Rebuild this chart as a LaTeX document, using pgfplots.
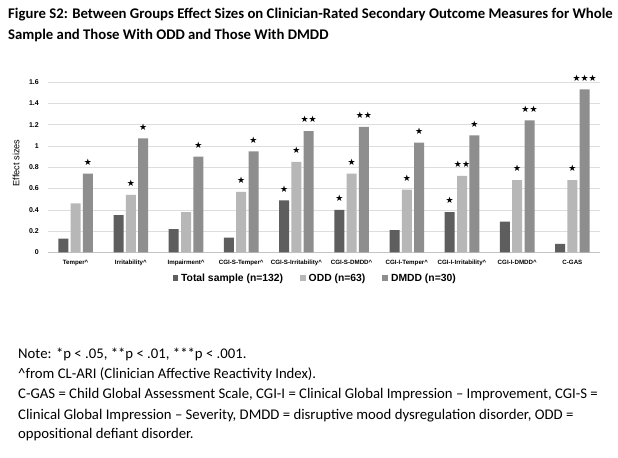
\documentclass[border=0pt]{standalone}
\usepackage{fontspec}
\setmainfont{Carlito}
\newfontfamily\arial{Liberation Sans}
\newfontfamily\djv{DejaVu Sans}
\usepackage{pgfplots}
\pgfplotsset{compat=1.18}

\definecolor{cTot}{HTML}{5E5E5E}
\definecolor{cOdd}{HTML}{B7B7B7}
\definecolor{cDmdd}{HTML}{8E8E8E}
\definecolor{cGrid}{HTML}{DDDDDD}
\definecolor{cAxis}{HTML}{C4C4C4}

\begin{document}
\begin{tikzpicture}
\path[use as bounding box, fill=white] (0bp,0bp) rectangle (618bp,458bp);

% title
\node[anchor=base west, inner sep=0pt, font=\bfseries\fontsize{14.8}{18}\selectfont] at (8bp,439bp)
  {Figure S2: Between Groups Effect Sizes on Clinician-Rated Secondary Outcome Measures for Whole};
\node[anchor=base west, inner sep=0pt, font=\bfseries\fontsize{14.8}{18}\selectfont] at (8bp,418bp)
  {Sample and Those With ODD and Those With DMDD};

\begin{axis}[
    at={(48bp,205.5bp)}, anchor=south west,
    scale only axis, width=552bp, height=170.5bp,
    xmin=-0.5, xmax=9.5, ymin=0, ymax=1.6,
    ybar=2.3bp, bar width=10bp,
    axis x line*=bottom, axis y line*=left,
    x axis line style={draw=cAxis, line width=0.6pt},
    y axis line style={draw=none},
    ytick={0,0.2,0.4,0.6,0.8,1,1.2,1.4,1.6},
    yticklabels={0,0.2,0.4,0.6,0.8,1,1.2,1.4,1.6},
    ymajorgrids, major grid style={draw=cGrid, line width=0.5pt},
    ytick style={draw=none},
    yticklabel style={font=\arial\bfseries\fontsize{7}{8}\selectfont, inner sep=0pt, anchor=east, xshift=-9bp},
    xtick={0,...,9},
    xticklabels={Temper\textasciicircum, Irritability\textasciicircum, Impairment\textasciicircum,
      CGI-S-Temper\textasciicircum, CGI-S-Irritability\textasciicircum, CGI-S-DMDD\textasciicircum,
      CGI-I-Temper\textasciicircum, CGI-I-Irritability\textasciicircum, CGI-I-DMDD\textasciicircum, C-GAS},
    xtick style={draw=none},
    xticklabel style={font=\arial\bfseries\fontsize{6.2}{7}\selectfont, inner sep=0pt, anchor=north, yshift=-3bp},
    extra x ticks={-0.5,0.5,1.5,2.5,3.5,4.5,5.5,6.5,7.5,8.5,9.5},
    extra x tick labels={},
    extra x tick style={grid=none, tick align=outside, major tick length=3bp,
      tick style={draw=cAxis, line width=0.6pt}},
    clip=false,
    nodes near coords, point meta=explicit symbolic,
    every node near coord/.append style={font=\djv\fontsize{9}{9}\selectfont, inner sep=0pt, anchor=south, yshift=8bp, text=black},
    legend columns=3,
    legend style={at={(0.484,-0.15)}, anchor=center, draw=none, fill=none,
      font=\arial\bfseries\fontsize{10.4}{12}\selectfont,
      /tikz/every odd column/.append style={column sep=1bp},
      /tikz/every even column/.append style={column sep=15bp}},
    legend image code/.code={\fill[#1] (0bp,-2.8bp) rectangle (5.6bp,2.8bp);},
]
\addplot[fill=cTot, draw=none] coordinates {
  (0,0.13) [\relax] (1,0.35) [\relax] (2,0.22) [\relax] (3,0.14) [\relax] (4,0.49) [★]
  (5,0.40) [★] (6,0.21) [\relax] (7,0.38) [★] (8,0.29) [\relax] (9,0.08) [\relax]
};
\addlegendentry{Total sample (n=132)}
\addplot[fill=cOdd, draw=none] coordinates {
  (0,0.46) [\relax] (1,0.54) [★] (2,0.38) [\relax] (3,0.57) [★] (4,0.85) [★]
  (5,0.74) [★] (6,0.59) [★] (7,0.72) [★★] (8,0.68) [★] (9,0.68) [★]
};
\addlegendentry{ODD (n=63)}
\addplot[fill=cDmdd, draw=none] coordinates {
  (0,0.74) [★] (1,1.07) [★] (2,0.90) [★] (3,0.95) [★] (4,1.14) [★★]
  (5,1.18) [★★] (6,1.03) [★] (7,1.10) [★] (8,1.24) [★★] (9,1.53) [★★★]
};
\addlegendentry{DMDD (n=30)}
\end{axis}

\node[rotate=90, inner sep=0pt, font=\arial\fontsize{9.2}{10}\selectfont] at (16bp,295bp) {Effect sizes};

% notes
\begin{scope}[every node/.style={anchor=base west, inner sep=0pt, font=\fontsize{14.8}{17}\selectfont}]
\node at (18bp,99bp) {Note: *p < .05, **p < .01, ***p < .001.};
\node at (18bp,79bp) {\textasciicircum from CL-ARI (Clinician Affective Reactivity Index).};
\node at (18bp,59bp) {C-GAS = Child Global Assessment Scale, CGI-I = Clinical Global Impression – Improvement, CGI-S =};
\node at (18bp,39bp) {Clinical Global Impression – Severity, DMDD = disruptive mood dysregulation disorder, ODD =};
\node at (18bp,20bp) {oppositional defiant disorder.};
\end{scope}
\end{tikzpicture}
\end{document}
